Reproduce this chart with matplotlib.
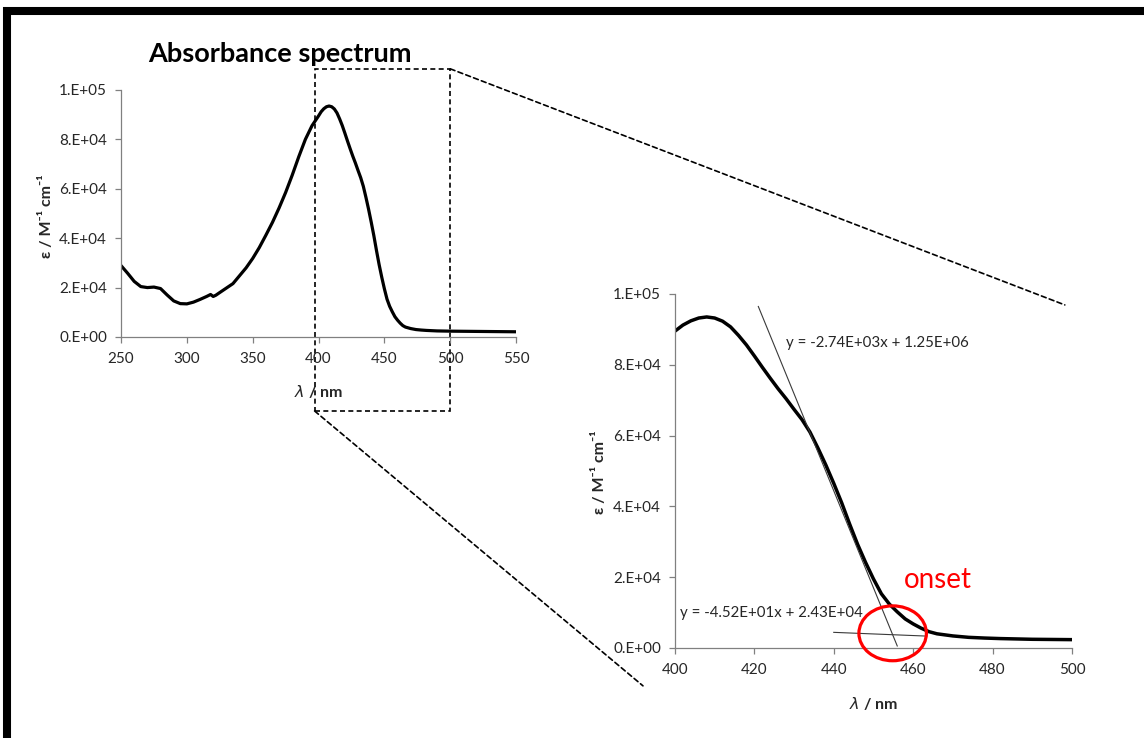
import numpy as np
import matplotlib
matplotlib.use("Agg")
import matplotlib.pyplot as plt
from matplotlib.patches import Rectangle, Ellipse, ConnectionPatch

plt.rcParams['font.family'] = ['Lato', 'DejaVu Sans']
plt.rcParams['mathtext.fontset'] = 'dejavusans'

# absorption spectrum, wavelength in nm, epsilon in M^-1 cm^-1
wavelength = [250, 255, 260, 265, 270, 275, 280, 285, 290, 295, 300, 305, 310,
              315, 318, 320, 322, 325, 330, 335, 340, 345, 350, 355, 360, 365,
              370, 375, 380, 385, 390, 395,
              400, 402, 404, 406, 408, 410, 412, 414, 416, 418, 420, 422, 424,
              426, 428, 430, 432, 434, 436, 438, 440, 442, 444, 446, 448, 450,
              452, 454, 456, 458, 460, 462, 464, 466, 468, 470, 474, 478, 482,
              486, 490, 495, 500, 510, 520, 530, 540, 550]
epsilon = [28.9e3, 25.8e3, 22.5e3, 20.4e3, 20.0e3, 20.2e3, 19.6e3, 17.0e3,
           14.6e3, 13.5e3, 13.4e3, 14.1e3, 15.2e3, 16.4e3, 17.2e3, 16.4e3,
           16.9e3, 18.0e3, 19.8e3, 21.6e3, 24.8e3, 28.0e3, 31.8e3, 36.2e3,
           41.2e3, 46.4e3, 52.2e3, 58.5e3, 65.5e3, 73.0e3, 80.0e3, 85.5e3,
           89.5e3, 91.2e3, 92.4e3, 93.2e3, 93.5e3, 93.2e3, 92.3e3, 90.7e3,
           88.3e3, 85.6e3, 82.5e3, 79.3e3, 76.2e3, 73.2e3, 70.4e3, 67.4e3,
           64.5e3, 61.0e3, 56.5e3, 51.7e3, 46.5e3, 41.0e3, 35.0e3, 29.3e3,
           24.2e3, 19.5e3, 15.3e3, 12.4e3, 10.2e3, 8.2e3, 6.8e3, 5.6e3, 4.6e3,
           4.0e3, 3.7e3, 3.4e3, 3.0e3, 2.8e3, 2.65e3, 2.55e3, 2.45e3, 2.4e3,
           2.35e3, 2.3e3, 2.25e3, 2.2e3, 2.15e3, 2.1e3]

y_ticks = [0, 2e4, 4e4, 6e4, 8e4, 1e5]
y_tick_labels = ['0.E+00', '2.E+04', '4.E+04', '6.E+04', '8.E+04', '1.E+05']
x_ticks_full = [250, 300, 350, 400, 450, 500, 550]
x_ticks_zoom = [400, 420, 440, 460, 480, 500]

# linear fits: steep edge and baseline
slope_edge, icpt_edge = -2.74e3, 1.25e6
slope_base, icpt_base = -4.52e1, 2.43e4
edge_range = [421, 456]
base_range = [440, 463]

zoom_range = [397, 500]

fig = plt.figure(figsize=(11.44, 7.38), dpi=100)
ax1 = fig.add_axes([0.1058, 0.5434, 0.3453, 0.3347])
ax2 = fig.add_axes([0.5900, 0.1220, 0.3470, 0.4797])

axis_grey = '#808080'
text_col = '#262626'


def style(ax, xticks):
    for s in ['top', 'right']:
        ax.spines[s].set_visible(False)
    for s in ['left', 'bottom']:
        ax.spines[s].set_color(axis_grey)
        ax.spines[s].set_linewidth(0.9)
    ax.set_yticks(y_ticks)
    ax.set_yticklabels(y_tick_labels)
    ax.set_xticks(xticks)
    ax.set_ylim(0, 1e5)
    ax.set_xlim(xticks[0], xticks[-1])
    ax.tick_params(axis='both', direction='out', length=4, width=0.9,
                   color=axis_grey, labelcolor=text_col, labelsize=11)
    ax.tick_params(axis='y', pad=6)
    ax.tick_params(axis='x', pad=7)
    ax.set_ylabel('ε / M⁻¹ cm⁻¹', fontsize=11.5, fontweight='bold',
                  color=text_col)
    ax.set_xlabel(r'$\lambda$ / nm', fontsize=11.5, fontweight='bold',
                  color=text_col)


style(ax1, x_ticks_full)
style(ax2, x_ticks_zoom)
ax1.yaxis.set_label_coords(-0.17, 0.49)
ax1.xaxis.set_label_coords(0.5, -0.186)
ax2.yaxis.set_label_coords(-0.171, 0.497)
ax2.xaxis.set_label_coords(0.5, -0.133)

ax1.plot(wavelength, epsilon, color='black', lw=2.3, solid_capstyle='round')
ax2.plot(wavelength, epsilon, color='black', lw=2.5, solid_capstyle='round')

# tangent lines
xe = np.array(edge_range)
xb = np.array(base_range)
ax2.plot(xe, slope_edge * xe + icpt_edge, color='#3a3a3a', lw=0.8)
ax2.plot(xb, slope_base * xb + icpt_base, color='#3a3a3a', lw=0.8)
ax2.text(427.9, 85.1e3, 'y = -2.74E+03x + 1.25E+06', fontsize=10.8,
         color=text_col, va='baseline', ha='left')
ax2.text(401.3, 8.85e3, 'y = -4.52E+01x + 2.43E+04', fontsize=10.8,
         color=text_col, va='baseline', ha='left')

# onset = intersection of the two fits
x_on = (icpt_base - icpt_edge) / (slope_edge - slope_base)
y_on = slope_base * x_on + icpt_base
ax2.add_patch(Ellipse((x_on, y_on + 400), 17, 15.5e3, fill=False,
                      edgecolor='red', lw=2.3, clip_on=False, zorder=5))
ax2.text(457.6, 16.9e3, 'onset', color='red', fontsize=20,
         va='baseline', ha='left')

# dashed zoom box and connectors
dash = (0, (3, 2))
box = Rectangle((zoom_range[0], -0.2996), zoom_range[1] - zoom_range[0],
                1.385, transform=ax1.get_xaxis_transform(), fill=False,
                edgecolor='black', lw=1.2, linestyle=dash, clip_on=False)
ax1.add_patch(box)
con_top = ConnectionPatch(xyA=(zoom_range[1], 1.0856),
                          coordsA=ax1.get_xaxis_transform(),
                          xyB=(0.982, 0.969), coordsB=ax2.transAxes,
                          color='black', lw=1.2, linestyle=dash)
con_bot = ConnectionPatch(xyA=(zoom_range[0], -0.2996),
                          coordsA=ax1.get_xaxis_transform(),
                          xyB=(-0.0806, -0.107), coordsB=ax2.transAxes,
                          color='black', lw=1.2, linestyle=dash)
fig.add_artist(con_top)
fig.add_artist(con_bot)

fig.text(0.2443, 0.916, 'Absorbance spectrum', fontsize=19.5,
         fontweight='bold', ha='center', va='baseline', color='black')

# frame around the slide
fig.add_artist(Rectangle((7 / 1144, -2.5 / 738), 1139.5 / 1144, 729.5 / 738,
                         transform=fig.transFigure, fill=False,
                         edgecolor='black', lw=5.8, clip_on=False))

fig.savefig('out.png', dpi=100)
